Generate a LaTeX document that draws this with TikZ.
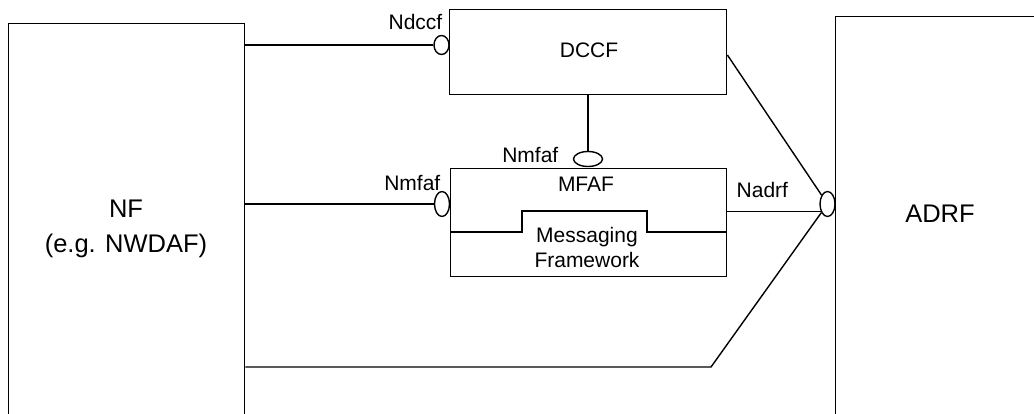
\documentclass[tikz,border=0pt]{standalone}
\usepackage{fontspec}
\setmainfont{Liberation Sans}
\usetikzlibrary{shapes.geometric}
\begin{document}
\begin{tikzpicture}[x=1pt,y=-1pt,line width=1.4pt,
  box/.style={draw,rectangle,inner sep=0pt,anchor=north west},
  iface/.style={draw,ellipse,inner sep=0pt,fill=white},
  small/.style={font=\fontsize{21}{25}\selectfont,inner sep=0pt},
  big/.style={font=\fontsize{25.5}{35}\selectfont,inner sep=0pt,align=center}]
\useasboundingbox (0,0) rectangle (1034,414);
\clip (0,0) rectangle (1034,414);
% boxes
\node[box,minimum width=236pt,minimum height=420pt] (nf) at (8,23) {};
\node[box,minimum width=220pt,minimum height=420pt] (adrf) at (835,16) {};
\node[box,minimum width=277pt,minimum height=85pt] (dccf) at (449,9) {};
\node[box,minimum width=276pt,minimum height=108pt] (mfaf) at (450,168) {};
% texts
\node[big] (nftext) at (126,229) {NF\\(e.g. NWDAF)};
\node[big,anchor=base] (adrftext) at (940,223) {ADRF};
\node[small,anchor=base] (dccftext) at (589,58) {DCCF};
\node[small,anchor=base] (mfaftext) at (586,192) {MFAF};
\node[small,align=center] (mftext) at (587,247) {Messaging\\Framework};
% interfaces
\node[iface,minimum width=15pt,minimum height=19pt] (ndccf) at (441.5,45) {};
\node[iface,minimum width=15pt,minimum height=25pt] (nmfafl) at (442,204) {};
\node[iface,minimum width=29pt,minimum height=15pt] (nmfaft) at (588,159) {};
\node[iface,minimum width=15pt,minimum height=25pt] (nadrf) at (827.5,204) {};
% interface labels
\node[small,anchor=base east] (ndccflbl) at (443,30) {Ndccf};
\node[small,anchor=base east] (nmfaftlbl) at (559,163) {Nmfaf};
\node[small,anchor=base east] (nmfafllbl) at (441,191) {Nmfaf};
\node[small,anchor=base west] (nadrflbl) at (736,198) {Nadrf};
% messaging framework line
\draw (mfaf.west |- 0,232) -- (522,232) -- (522,211) -- (647,211) -- (647,232) -- (mfaf.east |- 0,232);
% connectors
\draw (nf.east |- ndccf) -- (ndccf.west);
\draw (nf.east |- nmfafl) -- (nmfafl.west);
\draw (dccf.south -| nmfaft) -- (nmfaft.north);
\draw (dccf.east |- 0,55) -- (nadrf);
\draw (mfaf.east |- nadrf.228) -- (nadrf.228);
\coordinate (bend) at (711,367);
\draw (nf.east |- bend) -- (bend) -- (nadrf);
\end{tikzpicture}
\end{document}
